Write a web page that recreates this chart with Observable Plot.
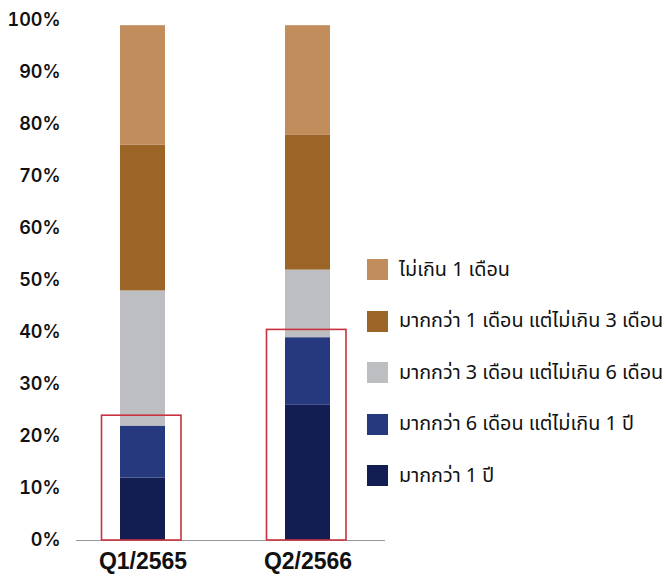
<!DOCTYPE html>
<html>
<head>
<meta charset="utf-8">
<script src="https://cdn.jsdelivr.net/npm/d3@7"></script>
<script src="https://cdn.jsdelivr.net/npm/@observablehq/plot@0.6"></script>
<style>
  html, body { margin: 0; padding: 0; background: #fff; }
  #wrap { position: relative; width: 668px; height: 576px; }
  #legend { position: absolute; left: 367px; top: 259px; font-family: "Noto Sans Thai", "Noto Sans", Roboto, sans-serif; font-size: 19.8px; color: #111; }
  .row { display: flex; align-items: center; height: 21px; margin-bottom: 30.6px; }
  .sw { width: 21px; height: 21px; flex: none; }
  .lab { margin-left: 11px; white-space: nowrap; }
</style>
</head>
<body>
<div id="wrap"></div>
<script>
const quarters = ["Q1/2565", "Q2/2566"];
const series = [
  "มากกว่า 1 ปี",
  "มากกว่า 6 เดือน แต่ไม่เกิน 1 ปี",
  "มากกว่า 3 เดือน แต่ไม่เกิน 6 เดือน",
  "มากกว่า 1 เดือน แต่ไม่เกิน 3 เดือน",
  "ไม่เกิน 1 เดือน"
];
const colors = ["#121d52", "#27397e", "#bdbec1", "#9a6526", "#c28d5c"];
const q1Values = [12, 10, 26, 28, 23];
const q2Values = [26, 13, 13, 26, 21];
const highlightValues = [24, 40.5];
const yTicks = [0, 10, 20, 30, 40, 50, 60, 70, 80, 90, 100];

const rows = [];
series.forEach((s, i) => {
  rows.push({q: quarters[0], s, v: q1Values[i]});
  rows.push({q: quarters[1], s, v: q2Values[i]});
});
const boxes = quarters.map((q, i) => ({q, v: highlightValues[i]}));

const chart = Plot.plot({
  width: 668,
  height: 576,
  marginTop: 20,
  marginBottom: 36,
  marginLeft: 76,
  marginRight: 283,
  style: {fontFamily: "Inter, 'Liberation Sans', sans-serif", background: "#fff", overflow: "visible"},
  x: {domain: quarters, paddingInner: 0.7273, paddingOuter: 0.3, align: 0.444, label: null},
  y: {domain: [0, 100], label: null},
  color: {domain: series, range: colors},
  marks: [
    Plot.barY(rows, {x: "q", y: "v", fill: "s"}),
    Plot.ruleY([0], {stroke: "#999", strokeWidth: 1.2}),
    Plot.barY(boxes, {x: "q", y: "v", fill: "none", stroke: "#c8323f", strokeWidth: 1.6, insetLeft: -18.5, insetRight: -16}),
    Plot.axisY({ticks: yTicks, tickSize: 0, tickPadding: 16, tickFormat: d => d + "%", fontSize: 18, fontWeight: 600, fill: "#111", label: null}),
    Plot.axisX({tickSize: 0, tickPadding: 12, fontSize: 23, fontWeight: 700, fontFamily: "'Liberation Sans', Arial, sans-serif", fill: "#111", label: null})
  ]
});
const wrap = document.getElementById("wrap");
wrap.appendChild(chart);

const legend = document.createElement("div");
legend.id = "legend";
for (let i = series.length - 1; i >= 0; i--) {
  const r = document.createElement("div");
  r.className = "row";
  const sw = document.createElement("div");
  sw.className = "sw";
  sw.style.background = colors[i];
  const t = document.createElement("span");
  t.className = "lab";
  t.textContent = series[i];
  r.appendChild(sw); r.appendChild(t);
  legend.appendChild(r);
}
wrap.appendChild(legend);
</script>
</body>
</html>
